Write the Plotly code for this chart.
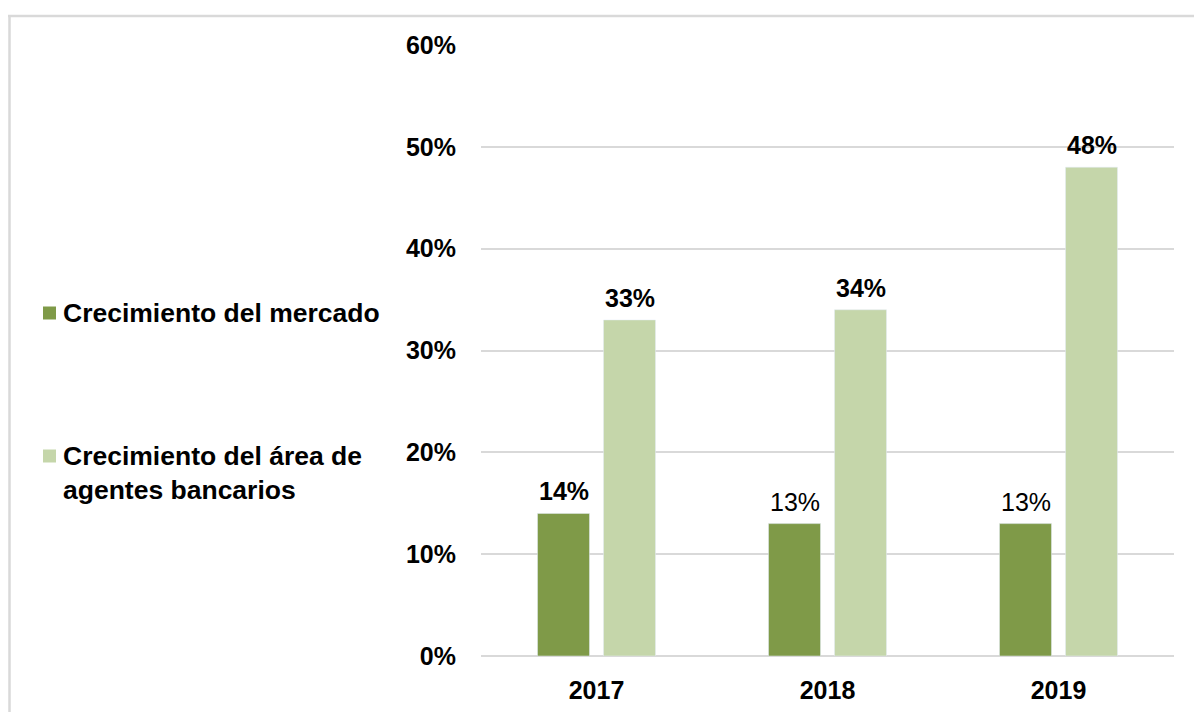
import plotly.graph_objects as go

# Data
years = ["2017", "2018", "2019"]
mercado = [0.14, 0.13, 0.13]
agentes = [0.33, 0.34, 0.48]
series_names = ["Crecimiento del mercado", "Crecimiento del área de<br>agentes bancarios"]
y_ticks = [0, 0.1, 0.2, 0.3, 0.4, 0.5, 0.6]
y_tick_labels = ["0%", "10%", "20%", "30%", "40%", "50%", "60%"]

DARK = "#7f9a48"
LIGHT = "#c5d6aa"
GRID = "#d9d9d9"
FONT = "Liberation Sans, Arial, sans-serif"
FS = 25

fig = go.Figure()
fig.add_trace(go.Bar(x=years, y=mercado, name=series_names[0], marker_color=DARK,
                     hoverinfo="skip", showlegend=False))
fig.add_trace(go.Bar(x=years, y=agentes, name=series_names[1], marker_color=LIGHT,
                     hoverinfo="skip", showlegend=False))

# Value labels above each bar
label_weight = {0: ["bold", "normal", "normal"], 1: ["bold", "bold", "bold"]}
for s, (vals, shift) in enumerate([(mercado, -33), (agentes, 33)]):
    for i, (yr, v) in enumerate(zip(years, vals)):
        txt = f"{round(v * 100)}%"
        if label_weight[s][i] == "bold":
            txt = f"<b>{txt}</b>"
        fig.add_annotation(x=i, y=v, xref="x", yref="y", text=txt, showarrow=False,
                           xshift=shift, yanchor="bottom", yshift=6,
                           font=dict(family=FONT, size=FS, color="#000000"))

# Pixel helpers for paper coordinates
W, H = 1194, 712
ml, mr, mt, mb = 481, 20, 45, 56
pw, ph = W - ml - mr, H - mt - mb
def px(xp):
    return (xp - ml) / pw
def py(yp):
    return (H - mb - yp) / ph

# Frame lines along the top and left edge
fig.add_shape(type="line", xref="paper", yref="paper", x0=px(8), x1=px(1196), y0=py(16), y1=py(16),
              line=dict(color=GRID, width=2.5))
fig.add_shape(type="line", xref="paper", yref="paper", x0=px(9.5), x1=px(9.5), y0=py(16), y1=py(714),
              line=dict(color=GRID, width=2.5))

# Legend drawn on the left side
legend_rows = [(series_names[0], DARK, 313, 313), (series_names[1], LIGHT, 456, 472.5)]
for name, color, mark_y, text_y in legend_rows:
    fig.add_shape(type="rect", xref="paper", yref="paper",
                  x0=px(43), x1=px(56), y0=py(mark_y - 6.5), y1=py(mark_y + 6.5),
                  line=dict(width=0), fillcolor=color)
    fig.add_annotation(xref="paper", yref="paper", x=px(61), y=py(text_y), text=f"<b>{name}</b>",
                       showarrow=False, xanchor="left", yanchor="middle", align="left",
                       font=dict(family=FONT, size=26.5, color="#000000"))

fig.update_layout(
    width=W, height=H,
    margin=dict(l=ml, r=mr, t=mt, b=mb),
    paper_bgcolor="#ffffff", plot_bgcolor="#ffffff",
    barmode="group", bargap=0.4286, bargroupgap=0.212,
    font=dict(family=FONT, size=FS, color="#000000"),
    showlegend=False,
)
fig.update_xaxes(type="category", range=[-0.5, len(years) - 0.5], autorange=False,
                 automargin=False,
                 showgrid=False, showline=False, ticks="", zeroline=False,
                 ticklabelstandoff=17,
                 tickfont=dict(family=FONT, size=FS, weight="bold"))
fig.update_yaxes(range=[0, 0.6], autorange=False, tickvals=y_ticks, ticktext=y_tick_labels,
                 automargin=False,
                 showgrid=True, gridcolor=GRID, gridwidth=1.5, zeroline=True,
                 zerolinecolor=GRID, zerolinewidth=1.5, showline=False, ticks="",
                 ticklabelstandoff=24,
                 tickfont=dict(family=FONT, size=FS, weight="bold"))

fig.write_html("out.html")
